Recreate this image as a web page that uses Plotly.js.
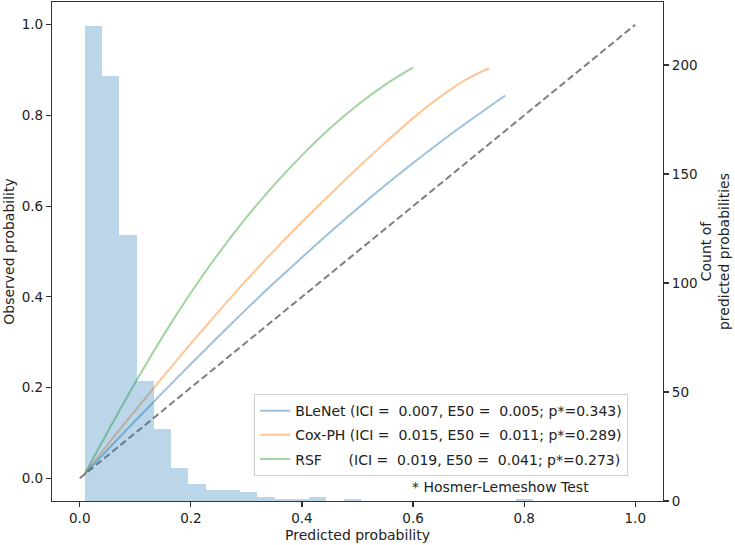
<!DOCTYPE html>
<html><head><meta charset="utf-8">
<script src="https://cdn.plot.ly/plotly-3.0.1.min.js"></script>
<style>html,body{margin:0;padding:0;background:#fff}#chart{width:735px;height:545px}</style>
</head><body><div id="chart"></div>
<script>
// Histogram of predicted probabilities (counts per bin)
const countBinStart = 0.009;
const countBinWidth = 0.03106;
const predCounts = [218,195,122,55,33,15,8,5,5,4,2,1,1,2,0,1,0,0,0,0,0,0,0,0,0,1];

// Calibration curves
const blenetX = [0.009,0.05,0.1,0.15,0.2,0.25,0.3,0.35,0.4,0.45,0.5,0.55,0.6,0.65,0.7,0.766];
const blenetY = [0.01,0.063,0.127,0.190,0.252,0.313,0.373,0.431,0.487,0.542,0.595,0.646,0.695,0.742,0.787,0.844];
const coxX = [0.009,0.05,0.1,0.15,0.2,0.25,0.3,0.35,0.4,0.45,0.5,0.55,0.6,0.65,0.7,0.737];
const coxY = [0.01,0.074,0.150,0.224,0.297,0.368,0.437,0.502,0.565,0.625,0.684,0.740,0.794,0.842,0.882,0.904];
const rsfX = [0.009,0.05,0.1,0.15,0.2,0.25,0.3,0.35,0.4,0.45,0.5,0.55,0.6];
const rsfY = [0.01,0.102,0.211,0.314,0.409,0.496,0.575,0.647,0.712,0.771,0.823,0.868,0.906];
const refX = [0, 1];
const refY = [0, 1];

const NB = '\u00a0';
const legendNames = [
  'BLeNet (ICI =' + NB + NB + '0.007, E50 =' + NB + NB + '0.005; p*=0.343)',
  'Cox-PH (ICI =' + NB + NB + '0.015, E50 =' + NB + NB + '0.011; p*=0.289)',
  'RSF' + NB.repeat(6) + '(ICI =' + NB + NB + '0.019, E50 =' + NB + NB + '0.041; p*=0.273)'
];
const xTickVals = [0, 0.2, 0.4, 0.6, 0.8, 1.0];
const yTickVals = [0, 0.2, 0.4, 0.6, 0.8, 1.0];
const y2TickVals = [0, 50, 100, 150, 200];

const binCenters = predCounts.map((_, i) => countBinStart + (i + 0.5) * countBinWidth);

const FONT = 'DejaVu Sans, sans-serif';
const lineColors = ['rgba(31,119,180,0.45)', 'rgba(255,127,14,0.45)', 'rgba(44,160,44,0.45)'];

const traces = [
  {x: refX, y: refY, type: 'scatter', mode: 'lines', showlegend: false,
   line: {color: '#7f7f7f', width: 2, dash: '7px,3.5px'}, xaxis: 'x', yaxis: 'y', hoverinfo: 'skip'},
  {x: blenetX, y: blenetY, type: 'scatter', mode: 'lines', name: legendNames[0], legendgroup: 'a',
   line: {color: lineColors[0], width: 2, shape: 'spline', smoothing: 0.8}, xaxis: 'x', yaxis: 'y'},
  {x: coxX, y: coxY, type: 'scatter', mode: 'lines', name: legendNames[1], legendgroup: 'b',
   line: {color: lineColors[1], width: 2, shape: 'spline', smoothing: 0.8}, xaxis: 'x', yaxis: 'y'},
  {x: rsfX, y: rsfY, type: 'scatter', mode: 'lines', name: legendNames[2], legendgroup: 'c',
   line: {color: lineColors[2], width: 2, shape: 'spline', smoothing: 0.8}, xaxis: 'x', yaxis: 'y'},
  {x: binCenters, y: predCounts, type: 'bar', width: countBinWidth, showlegend: false,
   marker: {color: 'rgba(31,119,180,0.3)', line: {width: 0}}, xaxis: 'x', yaxis: 'y2'}
];

const axisCommon = {
  showgrid: false, zeroline: false, showline: true, linecolor: '#333', linewidth: 1.1,
  ticks: 'outside', ticklen: 5, tickwidth: 1.1, tickcolor: '#333',
  tickfont: {family: FONT, size: 13.5, color: '#222'}
};

const layout = {
  width: 735, height: 545,
  margin: {l: 52, r: 72, t: 2, b: 44},
  paper_bgcolor: '#fff', plot_bgcolor: '#fff',
  font: {family: FONT, size: 14, color: '#222'},
  bargap: 0,
  xaxis: Object.assign({}, axisCommon, {
    range: [-0.05, 1.05], tickvals: xTickVals, tickformat: '.1f', mirror: true,
    title: {text: 'Predicted probability', font: {family: FONT, size: 14, color: '#222'}, standoff: 4}
  }),
  yaxis: Object.assign({}, axisCommon, {
    range: [-0.05, 1.05], tickvals: yTickVals, tickformat: '.1f', mirror: true,
    title: {text: 'Observed probability', font: {family: FONT, size: 14, color: '#222'}, standoff: 3}
  }),
  yaxis2: Object.assign({}, axisCommon, {
    range: [0, 228.9], tickvals: y2TickVals, overlaying: 'y', side: 'right', anchor: 'x',
    title: {text: 'Count of<br>predicted probabilities', font: {family: FONT, size: 14, color: '#222'}, standoff: 2}
  }),
  showlegend: true,
  legend: {
    x: 0.943, xanchor: 'right', y: 0.05, yanchor: 'bottom',
    bgcolor: 'rgba(255,255,255,0.8)', bordercolor: '#d0d0d0', borderwidth: 1,
    font: {family: FONT, size: 14, color: '#222'},
    traceorder: 'grouped', tracegroupgap: 3
  },
  annotations: [{
    text: '* Hosmer-Lemeshow Test', xref: 'paper', yref: 'paper', x: 0.734, y: 0.028,
    xanchor: 'center', yanchor: 'middle', showarrow: false,
    font: {family: FONT, size: 14, color: '#222'}
  }]
};

Plotly.newPlot('chart', traces, layout, {displayModeBar: false, staticPlot: true});
</script>
</body></html>
